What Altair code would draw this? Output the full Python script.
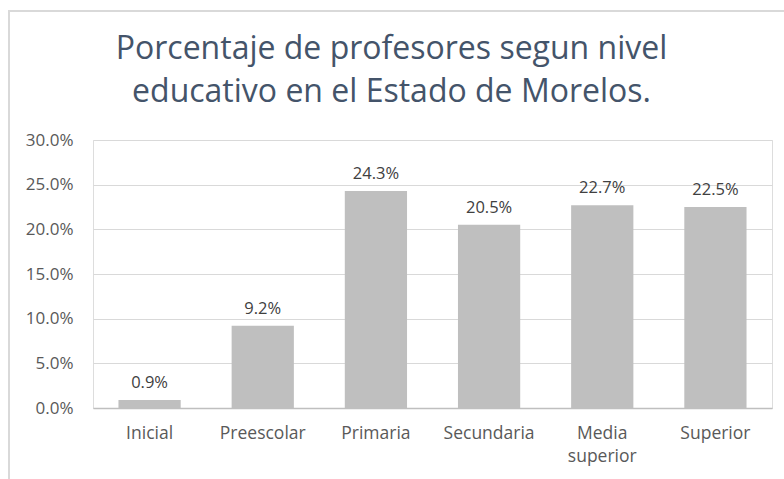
import altair as alt
import pandas as pd

categories = ["Inicial", "Preescolar", "Primaria", "Secundaria", "Media superior", "Superior"]
values = [0.009, 0.092, 0.243, 0.205, 0.227, 0.225]
title_lines = ["Porcentaje de profesores segun nivel", "educativo en el Estado de Morelos."]

df = pd.DataFrame({"nivel": categories, "pct": values})

FONT = "Open Sans"

x = alt.X("nivel:N", sort=categories, title=None,
          scale=alt.Scale(paddingInner=0.45, paddingOuter=0.225),
          axis=alt.Axis(labelAngle=0, labelFontSize=17.5, labelColor="#595959", labelFont=FONT,
                        labelPadding=16, ticks=False, domainColor="#BFBFBF", domainWidth=1.5,
                        labelExpr="datum.label == 'Media superior' ? ['Media', 'superior'] : datum.label",
                        labelLineHeight=23))
y = alt.Y("pct:Q", title=None,
          scale=alt.Scale(domain=[0, 0.30], nice=False),
          axis=alt.Axis(format=".1%", values=[0, 0.05, 0.10, 0.15, 0.20, 0.25, 0.30],
                        labelFontSize=17, labelColor="#595959", labelFont=FONT, labelPadding=20,
                        ticks=False, domain=False, gridColor="#D9D9D9", gridWidth=1))

bars = alt.Chart(df).mark_bar(color="#BFBFBF").encode(x=x, y=y)
labels = alt.Chart(df).mark_text(baseline="bottom", dy=-9, fontSize=16.5, color="#404040", font=FONT).encode(
    x=alt.X("nivel:N", sort=categories), y="pct:Q", text=alt.Text("pct:Q", format=".1%"))

title = alt.Chart(pd.DataFrame({"t": [0]})).mark_text(
    fontSize=32, font=FONT, color="#44546A", align="center", baseline="alphabetic",
    lineHeight=43, clip=False).encode(
    x=alt.value(298.5), y=alt.value(-81), text=alt.value(title_lines))

border_left = alt.Chart(df).mark_rule(color="#D9D9D9", strokeWidth=1.5, clip=False).encode(
    x=alt.value(-84), y=alt.value(-129), y2=alt.value(345))
border_top = alt.Chart(df).mark_rule(color="#D9D9D9", strokeWidth=1.5, clip=False).encode(
    x=alt.value(-85), x2=alt.value(700), y=alt.value(-129))

chart = alt.layer(border_left, border_top, bars, labels, title).properties(
    width=679, height=268,
    padding={"left": 93, "top": 140, "right": 12, "bottom": 71},
    autosize=alt.AutoSizeParams(type="none"),
).configure_view(stroke=None).configure(background="white")

chart.save("out.html", embed_options={"renderer": "svg", "actions": False})
